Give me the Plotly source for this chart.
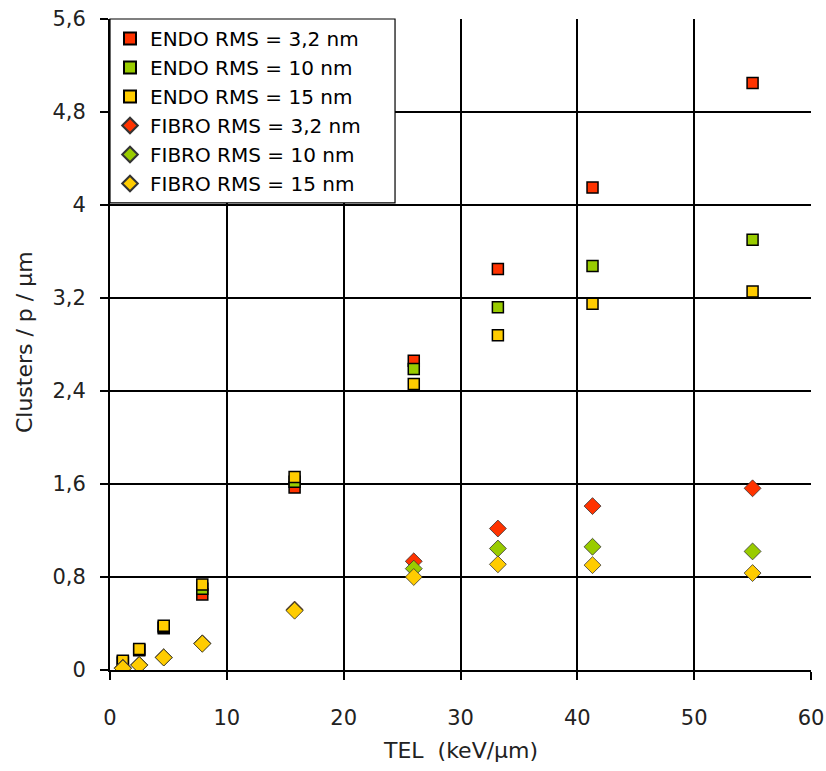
import plotly.graph_objects as go

tel = [1.1, 2.5, 4.6, 7.9, 15.8, 26.0, 33.2, 41.3, 55.0]

endo_32 = [0.06, 0.17, 0.36, 0.65, 1.57, 2.66, 3.45, 4.15, 5.05]
endo_10 = [0.07, 0.175, 0.37, 0.70, 1.62, 2.59, 3.12, 3.475, 3.70]
endo_15 = [0.08, 0.18, 0.38, 0.735, 1.66, 2.46, 2.88, 3.15, 3.255]
fibro_32 = [0.02, 0.045, 0.11, 0.23, 0.52, 0.935, 1.217, 1.41, 1.563]
fibro_10 = [0.015, 0.043, 0.108, 0.228, 0.515, 0.872, 1.045, 1.06, 1.02]
fibro_15 = [0.014, 0.042, 0.107, 0.226, 0.51, 0.80, 0.909, 0.902, 0.834]

series_names = ["ENDO RMS = 3,2 nm", "ENDO RMS = 10 nm", "ENDO RMS = 15 nm",
                "FIBRO RMS = 3,2 nm", "FIBRO RMS = 10 nm", "FIBRO RMS = 15 nm"]

y_ticks = [0, 0.8, 1.6, 2.4, 3.2, 4.0, 4.8, 5.6]
y_ticktext = ["0", "0,8", "1,6", "2,4", "3,2", "4", "4,8", "5,6"]
x_ticks = [0, 10, 20, 30, 40, 50, 60]

RED, GREEN, YELLOW = "#FF3300", "#99CC00", "#FFCC00"

fig = go.Figure()
data = [endo_32, endo_10, endo_15, fibro_32, fibro_10, fibro_15]
colors = [RED, GREEN, YELLOW, RED, GREEN, YELLOW]
symbols = ["square"] * 3 + ["diamond"] * 3
for name, ys, c, s in zip(series_names, data, colors, symbols):
    fig.add_trace(go.Scatter(
        x=tel, y=ys, mode="markers", name=name,
        marker=dict(symbol=s, color=c, size=11 if s == "square" else 13,
                    line=dict(color="black" if s == "square" else "#333333",
                              width=1.5 if s == "square" else 0.8)),
    ))

font = "DejaVu Sans, Verdana, sans-serif"
txt = "#222222"
fig.update_layout(
    width=826, height=771,
    margin=dict(l=110, r=15, t=19, b=101, autoexpand=False),
    paper_bgcolor="white", plot_bgcolor="white",
    font=dict(family=font, size=21, color=txt),
    showlegend=True,
    legend=dict(x=0, y=1, xanchor="left", yanchor="top",
                bgcolor="rgba(0,0,0,0)", borderwidth=0,
                font=dict(family=font, size=20, color="black"),
                tracegroupgap=0, itemsizing="constant"),
    shapes=[dict(type="rect", xref="paper", yref="paper", x0=0, x1=0.4066, y0=0.7174, y1=1,
                 fillcolor="white", line=dict(color="black", width=1.2), layer="above")],
    xaxis=dict(range=[0, 60], tickvals=x_ticks, showgrid=True, automargin=False,
               gridcolor="black", gridwidth=2, zeroline=False,
               showline=True, linecolor="black", linewidth=2, mirror=False,
               ticks="outside", ticklen=8, tickcolor="black", tickwidth=1.5,
               ticklabelstandoff=20, ticklabeloverflow="allow",
               tickfont=dict(family=font, size=21, color=txt)),
    yaxis=dict(range=[0, 5.6], tickvals=y_ticks, ticktext=y_ticktext, showgrid=True, automargin=False,
               gridcolor="black", gridwidth=2, zeroline=False,
               showline=True, linecolor="black", linewidth=2,
               ticks="outside", ticklen=8, tickcolor="black", tickwidth=1.5,
               ticklabelstandoff=10, ticklabeloverflow="allow",
               tickfont=dict(family=font, size=21, color=txt)),
    annotations=[
        dict(text="TEL  (keV/µm)", xref="paper", yref="paper", x=0.5, y=-0.123,
             xanchor="center", yanchor="middle", showarrow=False,
             font=dict(family=font, size=22, color=txt)),
        dict(text="Clusters / p / µm", xref="paper", yref="paper", x=-0.121, y=0.504,
             xanchor="center", yanchor="middle", showarrow=False, textangle=-90,
             font=dict(family=font, size=22, color=txt)),
    ],
)

fig.write_html("out.html", config={"displayModeBar": False},
               post_script="document.body.style.margin='0';document.body.style.overflow='hidden';")
